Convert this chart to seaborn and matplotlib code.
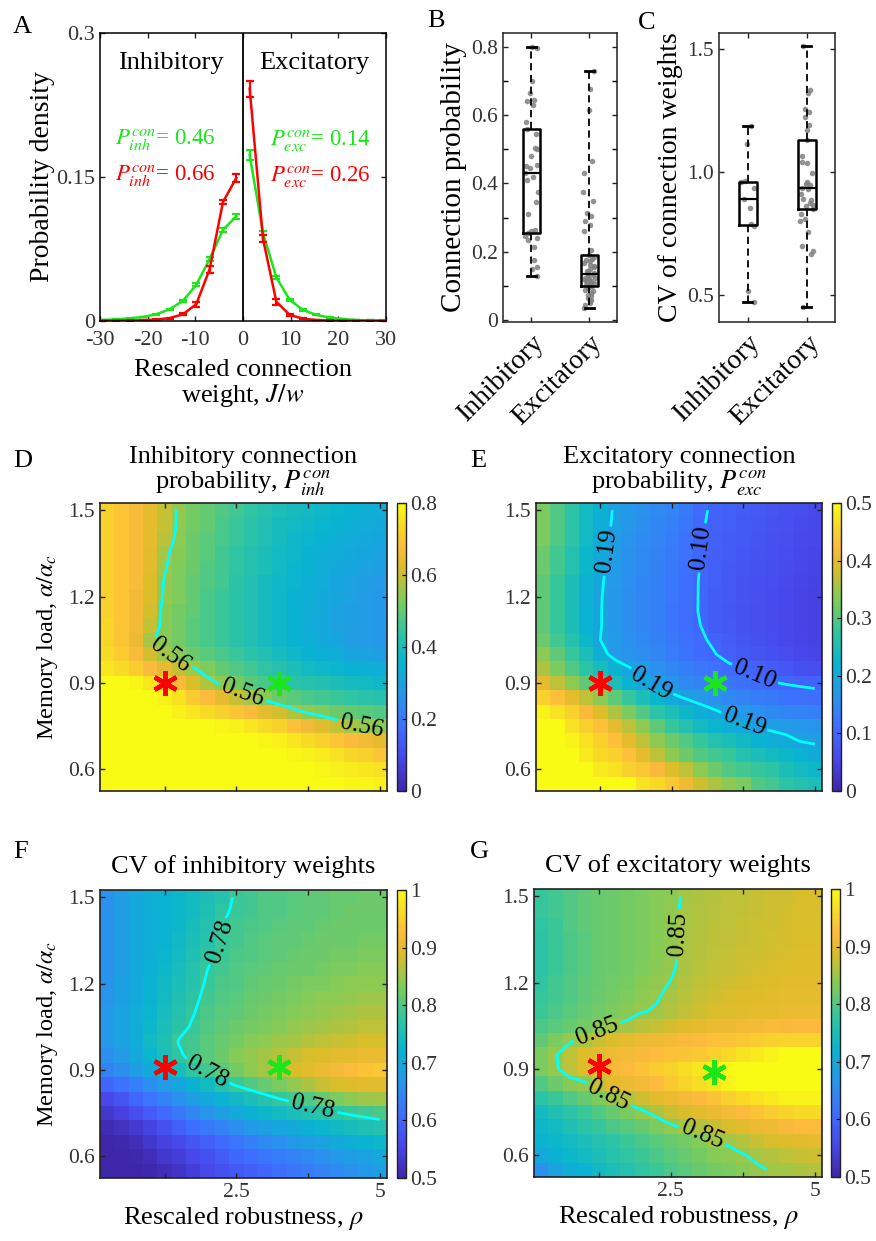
import numpy as np
import pandas as pd
import matplotlib
matplotlib.use("Agg")
import matplotlib.pyplot as plt
import seaborn as sns
from matplotlib.colors import LinearSegmentedColormap

# ---------------- data ----------------
# Panel A: bin centres of rescaled weight |J/w| and densities
bin_abs = [1.4, 4.2, 7.0, 9.8, 12.6, 15.4, 18.2, 21.0, 23.8, 26.6, 29.4]
red_inh = [0.149, 0.124, 0.054, 0.0175, 0.007, 0.003, 0.0015, 0.0008, 0.0005, 0.0004, 0.0003]
red_inh_err = [0.0045, 0.0025, 0.0035, 0.0028, 0.001, 0.0006, 0.0003, 0.0002, 0.0001, 0.0001, 0.0001]
green_inh = [0.109, 0.095, 0.0645, 0.0377, 0.021, 0.0122, 0.007, 0.0042, 0.0028, 0.0017, 0.001]
green_inh_err = [0.0026, 0.002, 0.0017, 0.0015, 0.001, 0.0008, 0.0005, 0.0003, 0.0002, 0.0001, 0.0001]
red_exc = [0.242, 0.0855, 0.020, 0.0063, 0.0024, 0.001, 0.0005, 0.0003, 0.0002, 0.0002, 0.0001]
red_exc_err = [0.0082, 0.0037, 0.003, 0.001, 0.0005, 0.0003, 0.0002, 0.0001, 0.0001, 0.0001, 0.0001]
green_exc = [0.1727, 0.0917, 0.0453, 0.022, 0.0115, 0.0063, 0.0035, 0.002, 0.001, 0.0007, 0.0005]
green_exc_err = [0.0052, 0.0023, 0.0015, 0.001, 0.0007, 0.0005, 0.0003, 0.0002, 0.0001, 0.0001, 0.0001]

# Panel B: connection probabilities
conn_inh = [0.13, 0.15, 0.155, 0.175, 0.215, 0.235, 0.24, 0.245, 0.255, 0.26, 0.265, 0.31,
            0.345, 0.375, 0.41, 0.42, 0.43, 0.445, 0.45, 0.455, 0.48, 0.50, 0.505, 0.545,
            0.56, 0.58, 0.63, 0.64, 0.645, 0.665, 0.70, 0.795, 0.80]
conn_exc = [0.035, 0.045, 0.05, 0.055, 0.06, 0.065, 0.07, 0.075, 0.08, 0.085, 0.09, 0.093, 0.097,
            0.10, 0.102, 0.105, 0.108, 0.11, 0.113, 0.115, 0.118, 0.12, 0.123, 0.125, 0.128, 0.131, 0.135,
            0.138, 0.142, 0.145, 0.15, 0.155, 0.16, 0.163, 0.168, 0.172, 0.176, 0.18, 0.185, 0.19,
            0.205, 0.26, 0.28, 0.29, 0.305, 0.315, 0.35, 0.375, 0.43, 0.465, 0.615, 0.675, 0.73]
# Panel C: CV of connection weights
cv_inh = [0.47, 0.515, 0.78, 0.79, 0.855, 0.89, 0.935, 0.96, 0.962, 1.115, 1.187]
cv_exc = [0.451, 0.665, 0.68, 0.70, 0.755, 0.80, 0.81, 0.83, 0.848, 0.86, 0.865, 0.875, 0.885,
          0.89, 0.91, 0.93, 0.936, 0.945, 0.95, 0.96, 0.995, 1.035, 1.04, 1.065, 1.129, 1.17,
          1.19, 1.225, 1.245, 1.255, 1.32, 1.335, 1.512]
categories = ["Inhibitory", "Excitatory"]

# Heatmap grid axes
rho_vals = [0.25, 0.5, 0.75, 1.0, 1.25, 1.5, 1.75, 2.0, 2.25, 2.5,
            2.75, 3.0, 3.25, 3.5, 3.75, 4.0, 4.25, 4.5, 4.75, 5.0]
load_vals = [1.5, 1.45, 1.4, 1.35, 1.3, 1.25, 1.2, 1.15, 1.1, 1.05,
             1.0, 0.95, 0.9, 0.85, 0.8, 0.75, 0.7, 0.65, 0.6, 0.55]

p_inh = [
    [.72,.70,.67,.64,.60,.55,.52,.50,.48,.46,.44,.42,.40,.39,.38,.37,.36,.35,.34,.33],
    [.72,.70,.67,.64,.60,.55,.52,.50,.47,.45,.43,.41,.39,.38,.37,.36,.35,.34,.33,.32],
    [.72,.70,.67,.64,.59,.545,.51,.49,.47,.45,.43,.41,.39,.37,.36,.35,.34,.33,.32,.31],
    [.72,.70,.67,.63,.57,.54,.51,.49,.46,.44,.42,.40,.38,.37,.35,.34,.33,.32,.31,.30],
    [.72,.70,.67,.63,.565,.53,.51,.48,.46,.44,.42,.40,.38,.36,.35,.33,.32,.31,.30,.29],
    [.72,.70,.67,.62,.555,.53,.50,.48,.46,.43,.41,.39,.37,.36,.34,.33,.31,.30,.29,.28],
    [.72,.70,.66,.62,.55,.53,.50,.47,.45,.43,.41,.39,.37,.35,.34,.32,.31,.30,.28,.27],
    [.72,.70,.66,.61,.54,.52,.50,.47,.45,.43,.41,.39,.37,.35,.33,.32,.30,.29,.28,.27],
    [.73,.70,.66,.60,.54,.52,.49,.47,.45,.43,.41,.39,.37,.35,.33,.32,.30,.29,.28,.27],
    [.73,.70,.65,.57,.54,.52,.49,.47,.45,.43,.41,.39,.37,.35,.34,.32,.31,.29,.28,.27],
    [.74,.71,.67,.61,.565,.54,.51,.49,.47,.45,.43,.41,.39,.37,.35,.34,.33,.31,.30,.29],
    [.76,.74,.71,.68,.64,.60,.565,.53,.50,.48,.46,.44,.42,.40,.38,.37,.36,.35,.34,.33],
    [.80,.80,.79,.76,.72,.67,.62,.58,.55,.52,.49,.47,.45,.43,.42,.41,.40,.39,.38,.37],
    [.80,.80,.80,.80,.78,.75,.71,.68,.64,.60,.57,.54,.51,.49,.47,.46,.45,.44,.43,.42],
    [.80,.80,.80,.80,.80,.78,.76,.74,.72,.70,.67,.64,.61,.58,.55,.53,.51,.50,.49,.48],
    [.80,.80,.80,.80,.80,.80,.80,.80,.79,.78,.76,.74,.72,.69,.66,.63,.60,.57,.55,.54],
    [.80,.80,.80,.80,.80,.80,.80,.80,.80,.80,.80,.79,.78,.76,.74,.72,.70,.68,.66,.64],
    [.80,.80,.80,.80,.80,.80,.80,.80,.80,.80,.80,.80,.80,.79,.78,.77,.75,.73,.72,.70],
    [.80,.80,.80,.80,.80,.80,.80,.80,.80,.80,.80,.80,.80,.80,.80,.79,.78,.77,.76,.75],
    [.80,.80,.80,.80,.80,.80,.80,.80,.80,.80,.80,.80,.80,.80,.80,.80,.80,.79,.79,.78],
]
p_exc = [
    [.33,.30,.27,.24,.215,.185,.17,.16,.15,.14,.125,.105,.095,.09,.085,.08,.075,.07,.065,.06],
    [.33,.30,.27,.24,.21,.183,.168,.155,.145,.135,.12,.103,.094,.088,.082,.077,.072,.067,.062,.058],
    [.33,.30,.27,.24,.205,.18,.165,.152,.142,.13,.117,.101,.092,.086,.08,.075,.07,.065,.06,.056],
    [.32,.29,.26,.23,.20,.178,.162,.15,.14,.128,.115,.10,.09,.084,.078,.073,.068,.063,.058,.054],
    [.32,.29,.26,.23,.198,.175,.16,.148,.138,.126,.113,.099,.089,.082,.076,.071,.066,.061,.056,.052],
    [.31,.28,.25,.22,.195,.172,.158,.146,.136,.124,.111,.098,.088,.08,.074,.069,.064,.059,.054,.05],
    [.31,.28,.25,.22,.193,.17,.156,.144,.134,.122,.11,.098,.087,.079,.073,.067,.062,.057,.052,.048],
    [.31,.28,.25,.22,.192,.17,.155,.143,.133,.121,.109,.098,.086,.078,.072,.066,.061,.056,.051,.047],
    [.31,.28,.25,.22,.192,.17,.155,.143,.133,.121,.11,.10,.087,.079,.072,.066,.061,.056,.051,.047],
    [.32,.29,.26,.23,.19,.175,.16,.148,.137,.125,.113,.104,.095,.084,.076,.069,.063,.058,.053,.049],
    [.34,.31,.28,.25,.21,.172,.165,.155,.143,.13,.118,.107,.101,.09,.082,.075,.069,.063,.058,.054],
    [.36,.33,.30,.27,.245,.22,.193,.175,.16,.146,.134,.122,.113,.106,.10,.092,.084,.077,.07,.065],
    [.40,.37,.34,.31,.28,.25,.22,.195,.18,.165,.15,.14,.13,.12,.113,.107,.102,.098,.096,.095],
    [.45,.43,.40,.37,.34,.31,.28,.25,.225,.20,.185,.172,.16,.15,.14,.132,.125,.118,.112,.108],
    [.49,.47,.45,.42,.39,.36,.33,.30,.27,.25,.23,.21,.195,.18,.17,.16,.15,.145,.14,.135],
    [.50,.50,.47,.45,.43,.40,.37,.34,.31,.28,.26,.24,.225,.21,.20,.185,.18,.175,.17,.165],
    [.50,.50,.49,.47,.45,.43,.40,.37,.34,.32,.30,.28,.26,.25,.235,.22,.21,.20,.188,.185],
    [.50,.50,.50,.48,.46,.45,.43,.40,.37,.34,.32,.30,.29,.28,.26,.25,.24,.23,.22,.205],
    [.50,.50,.50,.50,.48,.47,.45,.44,.42,.39,.37,.34,.32,.30,.29,.28,.27,.25,.24,.23],
    [.50,.50,.50,.50,.50,.50,.50,.47,.46,.44,.41,.38,.36,.34,.33,.30,.29,.27,.26,.25],
]
cv_inh_map = [
    [.66,.68,.70,.71,.72,.73,.74,.75,.765,.785,.79,.80,.80,.805,.81,.81,.815,.815,.82,.82],
    [.66,.68,.70,.71,.72,.73,.74,.755,.775,.785,.79,.80,.80,.805,.81,.81,.815,.82,.82,.82],
    [.66,.68,.70,.71,.72,.73,.745,.76,.78,.79,.795,.80,.805,.81,.81,.815,.82,.82,.82,.82],
    [.66,.68,.70,.71,.72,.735,.75,.765,.782,.79,.80,.805,.81,.81,.815,.82,.82,.82,.825,.825],
    [.66,.68,.70,.71,.725,.74,.755,.775,.785,.795,.80,.805,.81,.815,.82,.82,.825,.825,.83,.83],
    [.66,.68,.70,.715,.73,.745,.76,.78,.79,.80,.805,.81,.815,.82,.82,.825,.83,.83,.835,.835],
    [.665,.685,.70,.72,.735,.75,.765,.785,.795,.80,.81,.815,.82,.825,.83,.83,.835,.84,.84,.84],
    [.665,.685,.70,.72,.74,.755,.772,.79,.80,.805,.815,.82,.825,.83,.835,.84,.84,.845,.85,.85],
    [.67,.69,.71,.725,.745,.76,.778,.795,.805,.81,.82,.825,.83,.835,.84,.845,.85,.855,.86,.86],
    [.67,.69,.71,.73,.75,.768,.785,.80,.81,.82,.825,.83,.835,.845,.85,.855,.86,.865,.87,.87],
    [.67,.69,.71,.735,.755,.782,.79,.805,.815,.825,.835,.84,.85,.855,.865,.87,.875,.88,.885,.885],
    [.655,.675,.70,.725,.75,.775,.79,.805,.82,.835,.845,.855,.865,.875,.885,.89,.895,.90,.905,.905],
    [.64,.655,.68,.70,.72,.745,.775,.79,.805,.825,.84,.855,.87,.885,.895,.905,.915,.925,.935,.94],
    [.60,.615,.635,.655,.675,.695,.715,.74,.765,.785,.80,.815,.83,.845,.86,.875,.885,.89,.895,.895],
    [.555,.575,.60,.62,.64,.66,.68,.70,.72,.735,.75,.765,.78,.79,.80,.815,.83,.84,.85,.855],
    [.53,.545,.565,.585,.605,.625,.645,.665,.685,.70,.715,.73,.74,.75,.76,.77,.777,.785,.79,.795],
    [.51,.52,.535,.55,.57,.59,.61,.625,.64,.655,.67,.685,.695,.705,.715,.725,.735,.745,.755,.76],
    [.50,.505,.515,.53,.545,.56,.575,.59,.605,.62,.635,.65,.66,.67,.68,.69,.70,.71,.72,.73],
    [.50,.50,.505,.515,.53,.54,.555,.57,.585,.60,.61,.62,.63,.64,.65,.66,.67,.68,.69,.70],
    [.50,.50,.50,.505,.515,.525,.54,.555,.57,.58,.59,.60,.61,.62,.63,.64,.65,.66,.67,.68],
]
cv_exc_map = [
    [.78,.79,.80,.81,.815,.82,.825,.83,.835,.84,.855,.86,.865,.87,.87,.875,.88,.88,.885,.885],
    [.78,.79,.80,.81,.815,.82,.825,.83,.835,.842,.856,.862,.867,.87,.872,.876,.88,.882,.885,.885],
    [.775,.785,.80,.81,.815,.82,.825,.83,.835,.842,.856,.863,.868,.871,.874,.877,.88,.883,.886,.886],
    [.77,.785,.795,.805,.815,.82,.825,.83,.835,.843,.857,.864,.869,.872,.875,.878,.881,.884,.887,.887],
    [.77,.785,.795,.805,.815,.82,.825,.83,.836,.844,.858,.865,.87,.874,.877,.88,.883,.886,.889,.889],
    [.77,.785,.795,.805,.815,.82,.825,.832,.838,.846,.858,.866,.872,.876,.88,.883,.886,.889,.892,.892],
    [.775,.79,.80,.81,.815,.822,.828,.836,.843,.851,.862,.87,.876,.88,.884,.887,.89,.893,.896,.896],
    [.78,.79,.80,.81,.818,.825,.832,.84,.848,.856,.866,.874,.88,.885,.889,.892,.895,.898,.90,.90],
    [.785,.795,.805,.815,.822,.83,.838,.849,.852,.862,.872,.88,.886,.89,.894,.897,.90,.903,.906,.906],
    [.795,.805,.815,.825,.838,.851,.858,.868,.876,.884,.892,.898,.903,.908,.912,.915,.918,.92,.922,.922],
    [.81,.83,.845,.86,.875,.89,.90,.905,.91,.915,.92,.925,.93,.935,.94,.945,.95,.955,.955,.955],
    [.83,.848,.87,.89,.90,.91,.915,.92,.925,.93,.935,.94,.95,.96,.97,.98,.99,1.0,1.0,1.0],
    [.83,.845,.87,.89,.905,.915,.925,.935,.945,.955,.965,.975,.985,.995,1.0,1.0,1.0,1.0,1.0,1.0],
    [.80,.82,.835,.845,.87,.895,.905,.915,.925,.94,.955,.965,.975,.99,1.0,1.0,1.0,1.0,1.0,1.0],
    [.77,.785,.80,.815,.83,.85,.865,.88,.895,.905,.915,.925,.935,.95,.96,.97,.98,.99,.99,.99],
    [.74,.755,.77,.785,.80,.815,.83,.845,.86,.875,.885,.895,.905,.915,.925,.935,.945,.955,.96,.96],
    [.73,.74,.755,.77,.78,.795,.805,.815,.83,.845,.855,.865,.875,.885,.895,.905,.91,.92,.925,.925],
    [.72,.73,.74,.75,.76,.77,.785,.795,.805,.815,.825,.835,.852,.855,.865,.875,.885,.89,.895,.90],
    [.70,.715,.73,.74,.75,.765,.775,.785,.795,.805,.815,.825,.835,.84,.848,.856,.865,.87,.875,.88],
    [.66,.69,.71,.72,.735,.75,.76,.775,.785,.795,.805,.815,.825,.83,.835,.846,.852,.855,.86,.865],
]
# example network points (rho, load) for each heatmap panel
red_pt = {"D": (1.25, 0.90), "E": (1.25, 0.90), "F": (1.25, 0.91), "G": (1.25, 0.91)}
green_pt = {"D": (3.25, 0.90), "E": (3.25, 0.90), "F": (3.25, 0.91), "G": (3.25, 0.89)}

# ---------------- style ----------------
plt.rcParams["font.family"] = ["Liberation Serif", "DejaVu Serif"]
plt.rcParams["mathtext.fontset"] = "stix"
plt.rcParams["axes.unicode_minus"] = False
plt.rcParams["axes.linewidth"] = 1.1
TICK_C = "#333333"
FS_TICK = 15.5
FS_LAB = 19
GREEN = (0.1, 0.9, 0.1)
RED = (1.0, 0.0, 0.0)

parula = LinearSegmentedColormap.from_list("parula", [
    (0.0, (0.2422, 0.1504, 0.6603)), (0.111, (0.2803, 0.2782, 0.9221)),
    (0.222, (0.2440, 0.4358, 0.9988)), (0.333, (0.1540, 0.5902, 0.9218)),
    (0.444, (0.0297, 0.7082, 0.8163)), (0.556, (0.1938, 0.7758, 0.6251)),
    (0.667, (0.5044, 0.7993, 0.3480)), (0.778, (0.8634, 0.7406, 0.1596)),
    (0.85, (0.9900, 0.7300, 0.2400)), (0.92, (0.9700, 0.8500, 0.1500)),
    (1.0, (0.9769, 0.9839, 0.0805))])

W, H = 876, 1241
fig = plt.figure(figsize=(W / 100, H / 100), dpi=100)


def box(x0, y0, x1, y1):
    return [x0 / W, 1 - y1 / H, (x1 - x0) / W, (y1 - y0) / H]


def style_ticks(ax, size=FS_TICK):
    ax.tick_params(direction="in", top=True, right=True, length=3.5, width=1,
                   labelsize=size, labelcolor=TICK_C, color="#222222")
    ax.tick_params(which="minor", direction="in", top=True, right=True, length=3.5, width=1)


# ---------------- Panel A ----------------
axA = fig.add_axes(box(100, 33, 386, 321))
x_inh = [-v for v in bin_abs]
for xs, ys, es, col in [(x_inh, green_inh, green_inh_err, GREEN), (bin_abs, green_exc, green_exc_err, GREEN),
                        (x_inh, red_inh, red_inh_err, RED), (bin_abs, red_exc, red_exc_err, RED)]:
    sns.lineplot(x=xs, y=ys, color=col, lw=1.8, ax=axA, sort=True)
    axA.errorbar(xs, ys, yerr=es, fmt="none", ecolor=col, elinewidth=1.6, capsize=3.2, capthick=1.6)
axA.axvline(0, color="k", lw=1.3)
axA.set_xlim(-30, 30)
axA.set_ylim(0, 0.3)
axA.set_xticks([-30, -20, -10, 0, 10, 20, 30])
axA.set_xticklabels(["-30", "-20", "-10", "0", "10", "20", "30"])
axA.set_yticks([0, 0.15, 0.3])
axA.set_yticklabels(["0", "0.15", "0.3"])
style_ticks(axA, 16)
axA.tick_params(axis="x", pad=7)
axA.set_ylabel("Probability density", fontsize=20, labelpad=1)
axA.set_xlabel("Rescaled connection\nweight, $J/w$", fontsize=FS_LAB, labelpad=7, linespacing=1.05)
axA.text(-15.2, 0.262, "Inhibitory", fontsize=FS_LAB, ha="center", va="baseline")
axA.text(15.0, 0.262, "Excitatory", fontsize=FS_LAB, ha="center", va="baseline")
axA.text(-16.3, 0.183, r"$P_{inh}^{con}$= 0.46", fontsize=16.5, color=GREEN, ha="center", va="baseline")
axA.text(-16.3, 0.146, r"$P_{inh}^{con}$= 0.66", fontsize=16.5, color=RED, ha="center", va="baseline")
axA.text(16.3, 0.183, r"$P_{exc}^{con}$= 0.14", fontsize=16.5, color=GREEN, ha="center", va="baseline")
axA.text(16.3, 0.146, r"$P_{exc}^{con}$= 0.26", fontsize=16.5, color=RED, ha="center", va="baseline")


# ---------------- Panels B, C ----------------
def box_panel(ax, inh, exc, ylim, yticks, ylabels, minor, ylabel, ylab_fs):
    df = pd.DataFrame({"type": [categories[0]] * len(inh) + [categories[1]] * len(exc),
                       "value": list(inh) + list(exc)})
    np.random.seed(4)
    sns.stripplot(data=df, x="type", y="value", order=categories, color="#808080",
                  size=4, jitter=0.11, alpha=0.85, ax=ax, zorder=1)
    sns.boxplot(data=df, x="type", y="value", order=categories, whis=(0, 100), width=0.3,
                fill=False, color="black", linewidth=1.8, showfliers=False, ax=ax,
                whiskerprops={"linestyle": (0, (4, 2.5)), "linewidth": 1.3, "color": "black"},
                capprops={"linewidth": 2.0, "color": "black"},
                boxprops={"color": "black"},
                medianprops={"linewidth": 1.6, "color": "black"})
    ax.set_xlim(-0.49, 1.48)
    ax.set_ylim(*ylim)
    ax.set_yticks(yticks)
    ax.set_yticklabels(ylabels)
    if minor:
        ax.set_yticks(minor, minor=True)
    ax.set_xticks([0, 1])
    ax.set_xticklabels(categories, rotation=45, ha="right", rotation_mode="anchor",
                       fontsize=20, color="black")
    style_ticks(ax)
    ax.tick_params(axis="x", labelsize=20, labelcolor="black", pad=6)
    ax.set_xlabel("")
    ax.set_ylabel(ylabel, fontsize=ylab_fs, labelpad=3)
    for s in ax.spines.values():
        s.set_visible(True)
        s.set_color("#222222")


axB = fig.add_axes(box(503, 33, 617, 322))
box_panel(axB, conn_inh, conn_exc, (-0.005, 0.84), [0, 0.2, 0.4, 0.6, 0.8],
          ["0", "0.2", "0.4", "0.6", "0.8"], [0.1, 0.3, 0.5, 0.7], "Connection probability", 21)
axC = fig.add_axes(box(719, 33, 835, 322))
box_panel(axC, cv_inh, cv_exc, (0.39, 1.565), [0.5, 1.0, 1.5], ["0.5", "1.0", "1.5"], None,
          "CV of connection weights", 20)


# ---------------- Heatmaps ----------------
cell_pos = np.arange(len(rho_vals)) + 0.5


def xpos(v):
    return np.interp(v, rho_vals, cell_pos)


def ypos(v):
    return np.interp(v, load_vals[::-1], cell_pos[::-1])


def heat_panel(key, rect, crect, Z, vmin, vmax, cticks, clabels, levels, label_pts,
               title, xlabels, ylabel, tpad):
    ax = fig.add_axes(box(*rect))
    cax = fig.add_axes(box(*crect))
    df = pd.DataFrame(Z, index=load_vals, columns=rho_vals)
    sns.heatmap(df, ax=ax, cmap=parula, vmin=vmin, vmax=vmax, cbar_ax=cax,
                xticklabels=False, yticklabels=False, cbar_kws={"ticks": cticks})
    cs = ax.contour(cell_pos, cell_pos, np.array(Z), levels=levels, colors=[(0, 1, 1)],
                    linewidths=2.0)
    ax.clabel(cs, levels, inline=True, fmt="%.2f", fontsize=18, colors="k",
              manual=[(xpos(a), ypos(b)) for a, b in label_pts], inline_spacing=3)
    for pt, col in [(red_pt[key], RED), (green_pt[key], GREEN)]:
        ax.plot([xpos(pt[0])], [ypos(pt[1])], marker=(6, 2, 0), ms=18, mew=3.2,
                color=col, ls="none")
    ax.set_xticks([xpos(v) for v in [1.25, 2.5, 3.75, 5.0]])
    ax.set_xticklabels(["", "2.5", "", "5"] if xlabels else [])
    ax.set_yticks([ypos(v) for v in [0.6, 0.9, 1.2, 1.5]])
    ax.set_yticklabels(["0.6", "0.9", "1.2", "1.5"], rotation=0)
    style_ticks(ax)
    ax.set_xlabel("Rescaled robustness, $\\rho$" if xlabels else "", fontsize=FS_LAB, labelpad=2)
    ax.set_ylabel(ylabel, fontsize=17.5, labelpad=6)
    ax.set_title(title, fontsize=FS_LAB, pad=tpad, linespacing=1.05)
    for s in ax.spines.values():
        s.set_visible(True)
        s.set_color("#222222")
        s.set_linewidth(1.2)
    cbar = ax.collections[0].colorbar
    cbar.outline.set_linewidth(1.0)
    cbar.outline.set_edgecolor("#222222")
    cax.set_yticklabels(clabels)
    cax.tick_params(labelsize=FS_TICK, labelcolor=TICK_C, direction="in", length=3, width=0.8,
                    pad=3)
    return ax


heat_panel("D", (100, 503, 387, 791), (397, 503, 406, 791), p_inh, 0, 0.8,
           [0, 0.2, 0.4, 0.6, 0.8], ["0", "0.2", "0.4", "0.6", "0.8"], [0.56],
           [(1.3, 0.975), (2.6, 0.86), (4.7, 0.77)],
           "Inhibitory connection\nprobability, $P_{inh}^{con}$", False,
           "Memory load, $\\alpha/\\alpha_c$", 10)
heat_panel("E", (536, 503, 822, 791), (832, 503, 841, 791), p_exc, 0, 0.5,
           [0, 0.1, 0.2, 0.3, 0.4, 0.5], ["0", "0.1", "0.2", "0.3", "0.4", "0.5"], [0.10, 0.19],
           [(3.0, 1.37), (3.95, 0.93), (1.3, 1.36), (2.15, 0.91), (3.8, 0.78)],
           "Excitatory connection\nprobability, $P_{exc}^{con}$", False, "", 10)
heat_panel("F", (100, 890, 387, 1178), (397, 890, 406, 1178), cv_inh_map, 0.5, 1.0,
           [0.5, 0.6, 0.7, 0.8, 0.9, 1.0], ["0.5", "0.6", "0.7", "0.8", "0.9", "1"], [0.78],
           [(2.15, 1.35), (1.95, 0.87), (3.85, 0.78)],
           "CV of inhibitory weights", True, "Memory load, $\\alpha/\\alpha_c$", 12)
heat_panel("G", (534, 889, 822, 1177), (831, 889, 840, 1177), cv_exc_map, 0.5, 1.0,
           [0.5, 0.6, 0.7, 0.8, 0.9, 1.0], ["0.5", "0.6", "0.7", "0.8", "0.9", "1"], [0.85],
           [(2.55, 1.37), (1.3, 0.99), (1.45, 0.82), (3.1, 0.69)],
           "CV of excitatory weights", True, "", 12)

# panel letters
for letter, x, y in [("A", 13, 33), ("B", 427, 27), ("C", 638, 29), ("D", 13, 467),
                     ("E", 470, 467), ("F", 13, 858), ("G", 470, 858)]:
    fig.text(x / W, 1 - y / H, letter, fontsize=19, ha="left", va="baseline")

fig.savefig("out.png", dpi=100)
